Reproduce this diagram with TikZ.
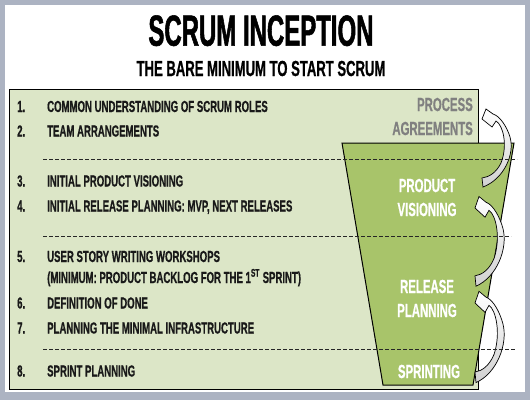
\documentclass[tikz,border=0pt]{standalone}
\usepackage{fontspec}
\setmainfont{Liberation Sans}[FakeStretch=0.6, FakeBold=0.6]
\newfontfamily\titlefont{Liberation Sans}[FakeStretch=0.55, FakeBold=1.2]
\usepackage{xcolor}
\usetikzlibrary{calc}

\definecolor{framegrey}{RGB}{172,179,194}
\definecolor{boxgreen}{RGB}{220,230,199}
\definecolor{funnelgreen}{RGB}{168,196,106}
\definecolor{labelgrey}{RGB}{128,128,128}

% gebogener Pfeil (Spitze bei #1,#2; #3 = Streckung in y)
\newcommand{\bentarrow}[3]{%
  \begin{scope}[shift={(#1,#2)}, yscale=#3]
    \draw[bend arrow] (0,59) -- (1,68) .. controls (22,60) and (33,35) .. (28,18)
      .. controls (25,8) and (18,-3) .. (11,-5) -- (4,-10) -- (0,0) -- (10,8) -- (14,2)
      .. controls (21,6) and (26,26) .. (19,44) .. controls (14,54) and (7,58) .. (0,59) -- cycle;
  \end{scope}}

\begin{document}
\begin{tikzpicture}[x=1pt, y=-1pt,
    item/.style={anchor=base west, inner sep=0pt, text=black!90,
      font=\fontsize{16}{19}\selectfont\bfseries},
    phase/.style={align=center, inner sep=0pt, text=white,
      font=\fontsize{19}{24}\selectfont\bfseries},
    sep line/.style={dash pattern=on 4pt off 2pt, line width=1pt, black!85},
    bend arrow/.style={line width=0.7pt, top color=white, bottom color=black!18}]

    \useasboundingbox (0,0) rectangle (530,400);

    % Folienrahmen
    \fill[framegrey] (0,0) rectangle (530,400);
    \fill[white] (5,5) rectangle (525,392);

    % Titel
    \node[anchor=base, inner sep=0pt, font=\titlefont\fontsize{43.6}{50}\selectfont\bfseries]
      (title) at (261,45.7) {SCRUM INCEPTION};
    \node[anchor=base, inner sep=0pt, font=\fontsize{21.8}{26}\selectfont\bfseries]
      (subtitle) at (261,76) {THE BARE MINIMUM TO START SCRUM};

    % Kasten und Trichter
    \draw[line width=1pt, fill=boxgreen] (9,89) rectangle (478,389);
    \draw[line width=1pt, fill=funnelgreen] (342,143) -- (514,143) -- (473,385) -- (383,385) -- cycle;

    % Liste
    \foreach \n/\y/\txt in {1/112/{COMMON UNDERSTANDING OF SCRUM ROLES},
        2/136.5/{TEAM ARRANGEMENTS},
        3/186.5/{INITIAL PRODUCT VISIONING},
        4/211.5/{INITIAL RELEASE PLANNING: MVP, NEXT RELEASES},
        5/262/{USER STORY WRITING WORKSHOPS},
        6/308.5/{DEFINITION OF DONE},
        7/333.5/{PLANNING THE MINIMAL INFRASTRUCTURE},
        8/376.5/{SPRINT PLANNING}} {
      \node[item] (num\n) at (17,\y) {\n.};
      \node[item] (step\n) at (47,\y) {\txt};
    }
    \node[item] (step5b) at (47,283) {(MINIMUM: PRODUCT BACKLOG FOR THE 1\textsuperscript{ST} SPRINT)};

    % Phasen
    \node[phase, anchor=east, align=right, text=labelgrey] (process) at (473,116.5) {PROCESS\\AGREEMENTS};
    \node[phase] (vision) at (427,197.5) {PRODUCT\\VISIONING};
    \node[phase] (release) at (427,298.5) {RELEASE\\PLANNING};
    \node[phase] (sprint) at (429,371.5) {SPRINTING};

    % Pfeile
    \bentarrow{482}{119}{1}
    \bentarrow{475}{208}{1.15}
    \bentarrow{475}{303}{1.17}

    % Trennlinien
    \draw[sep line] (43,159) -- (517,159);
    \draw[sep line] (43,236) -- (511,236);
    \draw[sep line] (43,349) -- (516,349);

\end{tikzpicture}
\end{document}
